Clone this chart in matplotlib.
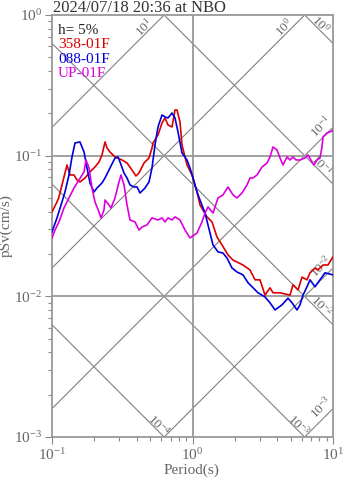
import numpy as np
import matplotlib
matplotlib.use('Agg')
from matplotlib import pyplot as plt

# 周期 (s) / 拟速度反应谱 pSv (cm/s), 三个分量
period_ns = [0.100, 0.1085, 0.1116, 0.1178, 0.1279, 0.1343, 0.1434, 0.1506, 0.1582, 0.1718,
             0.1864, 0.2023, 0.2160, 0.2269, 0.2384, 0.2463, 0.2587, 0.2809, 0.3149, 0.3419,
             0.3711, 0.3961, 0.4161, 0.4517, 0.4902, 0.5149, 0.5235, 0.5681, 0.6067, 0.6373,
             0.6694, 0.7147, 0.7506, 0.7756, 0.8147, 0.8419, 0.9140, 0.9918, 1.0765, 1.1308,
             1.2683, 1.3766, 1.4942, 1.6218, 1.7893, 1.9421, 2.2880, 2.5661, 2.7852, 3.0231,
             3.2810, 3.5612, 3.7411, 4.1959, 4.9431, 5.1921, 5.6362, 6.0180, 6.5313, 6.8600,
             7.4460, 7.8205, 8.4870, 9.2115, 10.0]
psv_ns = [0.0398, 0.0469, 0.0501, 0.0619, 0.0859, 0.0729, 0.0729, 0.0672, 0.0650, 0.0694,
          0.0766, 0.0831, 0.0902, 0.1012, 0.1252, 0.1134, 0.1062, 0.0979, 0.0932, 0.0887,
          0.0791, 0.0717, 0.0753, 0.0887, 0.0963, 0.1134, 0.1231, 0.1403, 0.1708, 0.1854,
          0.1653, 0.1600, 0.2113, 0.2113, 0.1736, 0.1191, 0.0859, 0.0729, 0.0552, 0.0446,
          0.0367, 0.0338, 0.0264, 0.0232, 0.0197, 0.0181, 0.0167, 0.0154, 0.0131, 0.0131,
          0.0102, 0.0115, 0.0106, 0.0106, 0.0102, 0.0121, 0.0111, 0.0137, 0.0131, 0.0147,
          0.0159, 0.0154, 0.0167, 0.0167, 0.0191]

period_ew = [0.100, 0.1085, 0.1178, 0.1237, 0.1321, 0.1388, 0.1458, 0.1582, 0.1690, 0.1775,
             0.1864, 0.1990, 0.2090, 0.2269, 0.2384, 0.2587, 0.2809, 0.2950, 0.3048, 0.3255,
             0.3419, 0.3592, 0.3833, 0.4027, 0.4230, 0.4591, 0.4902, 0.5149, 0.5408, 0.5681,
             0.6067, 0.6373, 0.6694, 0.7147, 0.7506, 0.7883, 0.8419, 0.9140, 0.9599, 1.0083,
             1.0765, 1.1308, 1.2274, 1.3322, 1.3993, 1.5189, 1.6486, 1.7603, 1.9103, 2.0736,
             2.2880, 2.4831, 2.9256, 3.2810, 3.5612, 3.8657, 4.3355, 4.7832, 5.1078, 5.5446,
             5.8239, 6.1174, 6.5313, 6.8600, 7.4460, 8.0803, 8.7702, 10.0]
psv_ew = [0.0287, 0.0361, 0.0469, 0.0552, 0.0729, 0.0979, 0.1231, 0.1252, 0.1062, 0.0818,
          0.0640, 0.0552, 0.0589, 0.0640, 0.0694, 0.0818, 0.0963, 0.0979, 0.0902, 0.0753,
          0.0694, 0.0619, 0.0599, 0.0599, 0.0543, 0.0589, 0.0650, 0.0818, 0.1191, 0.1600,
          0.1947, 0.1884, 0.1854, 0.2011, 0.1854, 0.1474, 0.1045, 0.0932, 0.0818, 0.0694,
          0.0552, 0.0484, 0.0391, 0.0282, 0.0232, 0.0207, 0.0203, 0.0187, 0.0159, 0.0149,
          0.0142, 0.0125, 0.0106, 0.0099, 0.0090, 0.0080, 0.0087, 0.0097, 0.0090, 0.0080,
          0.0087, 0.0102, 0.0117, 0.0131, 0.0117, 0.0131, 0.0147, 0.0142]

period_ud = [0.100, 0.1050, 0.1121, 0.1217, 0.1321, 0.1434, 0.1556, 0.1690, 0.1746, 0.1834,
             0.1926, 0.2023, 0.2160, 0.2232, 0.2345, 0.2384, 0.2545, 0.2630, 0.2809, 0.2999,
             0.3098, 0.3255, 0.3419, 0.3592, 0.3896, 0.4161, 0.4372, 0.4745, 0.5149, 0.5681,
             0.6067, 0.6373, 0.6694, 0.7147, 0.7506, 0.8147, 0.8843, 0.9599, 1.0765, 1.1683,
             1.2274, 1.2893, 1.3993, 1.5189, 1.6486, 1.7893, 1.9421, 2.0736, 2.2509, 2.4433,
             2.5661, 2.6954, 2.8782, 3.1240, 3.3903, 3.5612, 3.7411, 3.9942, 4.1959, 4.4071,
             4.7055, 4.9431, 5.1921, 5.4545, 5.8239, 6.3211, 6.6392, 7.0878, 7.3251, 7.6935,
             8.0803, 8.3492, 8.4870, 9.0620, 9.8378, 10.0]
psv_ud = [0.0260, 0.0296, 0.0338, 0.0425, 0.0501, 0.0589, 0.0672, 0.0766, 0.0932, 0.0818,
          0.0589, 0.0469, 0.0398, 0.0361, 0.0411, 0.0484, 0.0446, 0.0425, 0.0501, 0.0650,
          0.0729, 0.0619, 0.0446, 0.0349, 0.0338, 0.0296, 0.0311, 0.0322, 0.0361, 0.0349,
          0.0361, 0.0338, 0.0361, 0.0349, 0.0367, 0.0349, 0.0296, 0.0260, 0.0282, 0.0338,
          0.0391, 0.0432, 0.0391, 0.0501, 0.0526, 0.0599, 0.0526, 0.0501, 0.0543, 0.0619,
          0.0694, 0.0694, 0.0729, 0.0831, 0.0887, 0.0979, 0.1153, 0.1098, 0.0963, 0.0859,
          0.0979, 0.0932, 0.0979, 0.0932, 0.0932, 0.0963, 0.1012, 0.0902, 0.0859, 0.0932,
          0.0963, 0.1153, 0.1358, 0.1450, 0.1498, 0.1520]

series_names = ['358-01F', '088-01F', 'UP-01F']
series_colors = ['#dd0000', '#0000dd', '#dd00dd']

title_text = '2024/07/18 20:36 at NBO'
damping_text = 'h= 5%'

# 三联谱斜线: 位移 Sd (cm), 加速度 pSa (cm/s^2)
sd_levels = [1e-4, 1e-3, 1e-2, 1e-1, 1e0]
psa_levels = [1e-3, 1e-2, 1e-1, 1e0, 1e1]

t_min, t_max = 0.1, 10.0
v_min, v_max = 1e-3, 1.0

W, H = 347, 478
GRAY = '#808080'
TXT = '#666666'

plt.rcParams['font.family'] = ['Liberation Serif', 'DejaVu Serif']
plt.rcParams['mathtext.fontset'] = 'custom'
plt.rcParams['mathtext.rm'] = 'Liberation Serif'
plt.rcParams['mathtext.it'] = 'Liberation Serif:italic'
plt.rcParams['mathtext.bf'] = 'Liberation Serif:bold'


def psa_end(a):
    """加速度线离开绘图区的端点"""
    v_end = a * t_max / (2 * np.pi)
    if v_end <= v_max:
        return t_max, v_end, 'right'
    return v_max * 2 * np.pi / a, v_max, 'top'


def sd_end(d):
    """位移线离开绘图区的端点"""
    v_end = 2 * np.pi * d / t_max
    if v_end >= v_min:
        return t_max, v_end, 'right'
    return 2 * np.pi * d / v_min, v_min, 'bottom'


def level_label(level):
    return r'$\mathdefault{10^{%d}}$' % int(round(np.log10(level)))


fig = plt.figure(figsize=(W / 100, H / 100), dpi=100)
ax = fig.add_axes([52 / W, 1 - 437 / H, 281 / W, 422 / H])
ax.set_xscale('log')
ax.set_yscale('log')
ax.set_xlim(t_min, t_max)
ax.set_ylim(v_min, v_max)

t_line = np.array([t_min, t_max])

# 斜线
for a in psa_levels:
    ax.plot(t_line, a * t_line / (2 * np.pi), color=GRAY, lw=0.8, zorder=1)
for d in sd_levels:
    ax.plot(t_line, 2 * np.pi * d / t_line, color=GRAY, lw=0.8, zorder=1)

# 斜线标注 (像素偏移)
label_offsets = {
    ('psa', 'top'): (-20, -12),
    ('psa', 'right'): (-12, 1),
    ('sd', 'right'): (-12, 19),
    ('sd', 'bottom'): (-6, 12),
}
for a in psa_levels:
    tx, vy, side = psa_end(a)
    ax.annotate(level_label(a), xy=(tx, vy), xytext=label_offsets[('psa', side)],
                textcoords='offset pixels', rotation=45, rotation_mode='anchor',
                ha='center', va='center', fontsize=9.5, color=TXT, zorder=2)
for d in sd_levels:
    tx, vy, side = sd_end(d)
    ax.annotate(level_label(d), xy=(tx, vy), xytext=label_offsets[('sd', side)],
                textcoords='offset pixels', rotation=-45, rotation_mode='anchor',
                ha='center', va='center', fontsize=9.5, color=TXT, zorder=2)

# 网格
ax.axvline(1.0, color='#999999', lw=1.3, zorder=1)
for yv in [1e-1, 1e-2]:
    ax.axhline(yv, color='#999999', lw=1.3, zorder=1)

# 反应谱
series = [(period_ns, psv_ns), (period_ew, psv_ew), (period_ud, psv_ud)]
for (t, v), c in zip(series, series_colors):
    ax.plot(t, v, color=c, lw=1.2, zorder=3)

# 图例文字
fig.text(58 / W, 1 - 34.5 / H, damping_text, fontsize=11, color='#222222', va='baseline')
for i, (name, c) in enumerate(zip(series_names, series_colors)):
    fig.text(58 / W, 1 - (48.5 + 14.3 * i) / H, name, fontsize=11, color=c, va='baseline')

fig.text(53 / W, 1 - 12 / H, title_text, fontsize=12, color='#333333', va='baseline')

for s in ax.spines.values():
    s.set_color('#999999')
    s.set_linewidth(1.3)

ax.tick_params(which='both', direction='out', color='#888888', labelcolor=TXT,
               labelsize=11, top=False, right=False)
ax.tick_params(which='major', length=5, width=0.8, pad=2)
ax.tick_params(which='minor', length=3, width=0.8)

ax.set_xlabel('Period(s)', fontsize=11, color=TXT)
ax.set_ylabel('pSv(cm/s)', fontsize=11, color=TXT)
ax.xaxis.set_label_coords(0.498, -0.063)
ax.yaxis.set_label_coords(-0.138, 0.502)

fig.savefig('out.png', dpi=100)
